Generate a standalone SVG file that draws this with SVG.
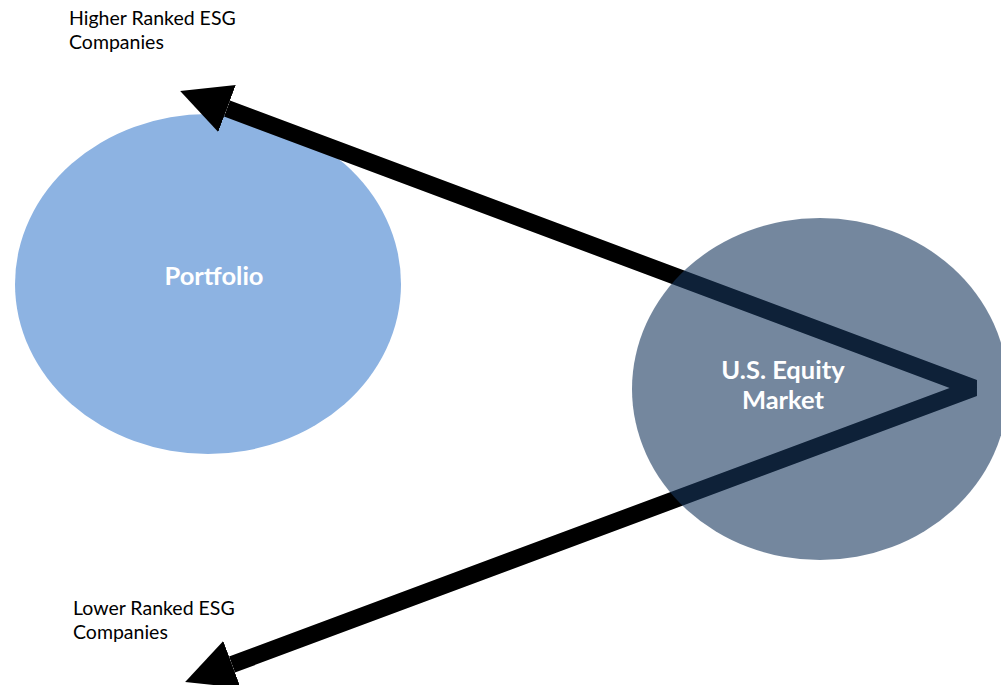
<svg xmlns="http://www.w3.org/2000/svg" width="1001" height="685" viewBox="0 0 1001 685">
<style>
.lbl{font-family:Lato,"Liberation Sans",sans-serif;font-size:19.5px;fill:#000}
.nd{font-family:Lato,"Liberation Sans",sans-serif;font-size:25.5px;font-weight:bold;fill:#fff;text-anchor:middle}
</style>
<defs>
<marker id="ah" markerUnits="userSpaceOnUse" markerWidth="52" markerHeight="52" refX="0" refY="25" orient="auto-start-reverse" viewBox="0 0 52 52">
<path d="M0,0 L50,25 L0,50 z" fill="#000"/>
</marker>
</defs>
<rect width="1001" height="685" fill="#fff"/>
<g id="portfolio">
<ellipse cx="208" cy="284" rx="193" ry="170" fill="#8DB3E2"/>
<text class="nd" x="214" y="285">Portfolio</text>
</g>
<g id="connectors">
<path d="M227,108.5 L974,388 L232,664.5" fill="none" stroke="#000" stroke-width="17" stroke-linejoin="bevel" marker-start="url(#ah)" marker-end="url(#ah)"/>
</g>
<g id="equity">
<ellipse cx="820" cy="389" rx="188" ry="171" fill="#17375E" fill-opacity="0.6"/>
<text class="nd" x="783" y="379">U.S. Equity</text>
<text class="nd" x="783" y="409">Market</text>
</g>
<g id="higher">
<text class="lbl" x="69" y="25">Higher Ranked ESG</text>
<text class="lbl" x="69" y="49">Companies</text>
</g>
<g id="lower">
<text class="lbl" x="73" y="615">Lower Ranked ESG</text>
<text class="lbl" x="73" y="639">Companies</text>
</g>
</svg>
